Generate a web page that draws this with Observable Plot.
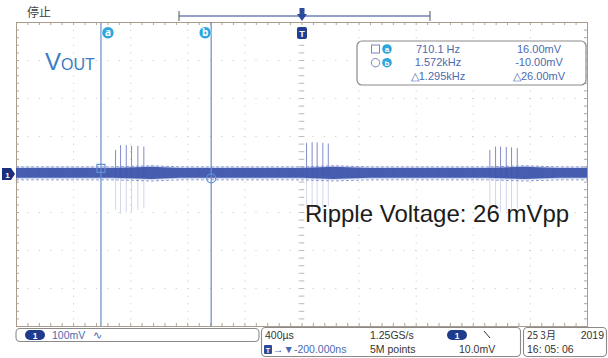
<!DOCTYPE html>
<html><head><meta charset="utf-8">
<script src="https://cdn.jsdelivr.net/npm/d3@7"></script>
<script src="https://cdn.jsdelivr.net/npm/@observablehq/plot@0.6"></script>
<style>
html,body{margin:0;padding:0;background:#fff;}
svg{display:block;overflow:visible;}
</style></head><body><div id="chart"></div>
<script>
// ---- data (time in µs, voltage in mV) ----
const envT  = [-2000, -1320, -1050, -850, 0, 220, 480, 1300, 1560, 1800, 2000];
const envHi = [16, 16, 19, 16, 16, 19, 16, 16, 19, 16, 16];
const envLo = [-10, -10, -13, -10, -10, -13, -10, -10, -13, -10, -10];

const spikeT  = [-1306, -1271, -1231, -1194, -1150, -1108, 32, 71, 106, 146, 184, 1316, 1356, 1391, 1431, 1468, 1508];
const spikeHi = [63, 76, 76, 74, 74, 72, 82, 84, 83, 82, 80, 63, 72, 72, 71, 70, 68];
const spikeLo = [-95, -105, -100, -100, -95, -90, -90, -95, -95, -90, -85, -90, -100, -100, -95, -95, -90];

const cursorNames = ["a", "b"];
const cursorT = [-1408.3, -636.1];
const cursorV = [16, -10];

const readFreq = ["710.1 Hz", "1.572kHz", "△1.295kHz"];
const readVolt = ["16.00mV", "-10.00mV", "△26.00mV"];

const chScale = "100mV";
const timeScale = "400µs";
const trigOffset = "→▼-200.000ns";
const sampleRate = "1.25GS/s";
const recordLen = "5M points";
const trigLevel = "10.0mV";
const dateText = "25 3月";
const yearText = "2019";
const clockText = "16: 05: 06";

// ---- derived ----
const env = envT.map((t, i) => ({t, hi: envHi[i], lo: envLo[i]}));
const spikes = spikeT.map((t, i) => ({t, hi: spikeHi[i], lo: spikeLo[i]}));
const cursors = cursorNames.map((n, i) => ({n, t: cursorT[i], v: cursorV[i]}));

const divT = d3.range(-1600, 1601, 400).filter(d => d !== 0);
const divV = d3.range(-300, 301, 100).filter(d => d !== 0);
const subT = d3.range(-2000, 2001, 80);
const subV = d3.range(-400, 401, 20);

const gridC = "#cfcfcf", tickC = "#b3a796", frameC = "#a99c8a";
const traceC = "#3a52aa", cursorC = "#6390d2";

const plot = Plot.plot({
  width: 608, height: 358,
  marginLeft: 16, marginRight: 21, marginTop: 22, marginBottom: 32,
  x: {domain: [-2000, 2000], axis: null},
  y: {domain: [-400, 400], axis: null},
  style: {background: "#fff", overflow: "visible"},
  marks: [
    Plot.ruleX(divT, {x: d => d, stroke: gridC, strokeDasharray: "1.2,6.4"}),
    Plot.ruleY(divV, {y: d => d, stroke: gridC, strokeDasharray: "1.2,10.2"}),
    Plot.ruleX([0], {x: d => d, stroke: gridC, strokeDasharray: "1.2,6.4"}),
    Plot.ruleY([0], {y: d => d, stroke: gridC, strokeDasharray: "1.2,10.2"}),
    Plot.ruleX(subT, {x: d => d, y1: () => 400, y2: () => 392, stroke: tickC}),
    Plot.ruleX(subT, {x: d => d, y1: () => -400, y2: () => -392, stroke: tickC}),
    Plot.ruleY(subV, {y: d => d, x1: () => -2000, x2: () => -1979, stroke: tickC}),
    Plot.ruleY(subV, {y: d => d, x1: () => 2000, x2: () => 1979, stroke: tickC}),
    Plot.ruleX(subT, {x: d => d, y1: () => -7, y2: () => 7, stroke: "#c4c4c4"}),
    Plot.ruleY(subV, {y: d => d, x1: () => -20, x2: () => 20, stroke: "#bdbdbd"}),
    Plot.frame({stroke: frameC}),
    Plot.ruleX(spikes, {x: "t", y1: () => 0, y2: "lo", stroke: "#8c98cf", strokeOpacity: 0.4}),
    Plot.ruleX(spikes, {x: "t", y1: () => 0, y2: "hi", stroke: "#5565b4", strokeOpacity: 0.75}),
    Plot.areaY(env, {x: "t", y1: d => d.lo - 3, y2: d => d.hi + 3, fill: "#7d8fd0", fillOpacity: 0.35}),
    Plot.areaY(env, {x: "t", y1: "lo", y2: "hi", fill: traceC, fillOpacity: 0.92}),
    Plot.lineY(env, {x: "t", y: d => d.hi + 4, stroke: "#8797d4", strokeDasharray: "2,3", strokeWidth: 1}),
    Plot.lineY(env, {x: "t", y: d => d.lo - 4, stroke: "#8797d4", strokeDasharray: "2,3", strokeWidth: 1}),
    Plot.ruleX(cursors, {x: "t", stroke: cursorC, strokeWidth: 1.2}),
    Plot.dot(cursors.slice(0, 1), {x: "t", y: "v", symbol: "square", r: 4.5, stroke: cursorC, fill: "none", strokeWidth: 1.2}),
    Plot.dot(cursors.slice(1), {x: "t", y: "v", symbol: "circle", r: 4.5, stroke: cursorC, fill: "none", strokeWidth: 1.2}),
    Plot.dot(cursors, {x: "t", y: () => 373, r: 6, fill: "#2ba7de", stroke: "#fff", strokeWidth: 0.5}),
    Plot.text(cursors, {x: "t", y: () => 373, text: "n", fill: "#fff", fontSize: 10, fontWeight: "bold"})
  ]
});

document.getElementById("chart").appendChild(plot);

const svg = d3.select(plot);
const gDots = svg.selectAll("g[aria-label='dot']").filter((d, i) => i === 2);
gDots.selectAll("circle, path").each(function(d, i) {
  const t = d3.select(this).attr("transform") || "";
  d3.select(this).attr("transform", t + (i === 0 ? " translate(7,0)" : " translate(-6,0)"));
});
svg.selectAll("g[aria-label='text'] text").each(function(d, i) {
  const t = d3.select(this).attr("transform") || "";
  d3.select(this).attr("transform", t + (i === 0 ? " translate(7,0)" : " translate(-6,0)"));
});

// ---- scope chrome ----
const g = svg.append("g").attr("font-family", "'Liberation Sans', Arial, sans-serif").attr("text-anchor", "start");
const txt = (x, y, s, o = {}) => g.append("text").attr("x", x).attr("y", y).text(s)
  .attr("font-size", o.size || 10.5).attr("fill", o.fill || "#333")
  .attr("text-anchor", o.anchor || "start").attr("font-family", o.family || null)
  .attr("font-weight", o.weight || null);

g.append("line").attr("x1", 179).attr("x2", 430).attr("y1", 16).attr("y2", 16).attr("stroke", "#6f80b6").attr("stroke-width", 1.4);
[179, 430].forEach(x => g.append("line").attr("x1", x).attr("x2", x).attr("y1", 11).attr("y2", 21).attr("stroke", "#555"));
g.append("rect").attr("x", 299.5).attr("y", 8).attr("width", 5).attr("height", 7).attr("fill", "#2c4b9a");
g.append("path").attr("d", "M297,14 L307,14 L302,21 Z").attr("fill", "#2c4b9a");
g.append("rect").attr("x", 297).attr("y", 27).attr("width", 10).attr("height", 12).attr("rx", 2).attr("fill", "#1e3f92");
txt(302, 37, "T", {size: 9, fill: "#fff", anchor: "middle", weight: "bold"});
txt(27, 17, "停止", {size: 12, fill: "#444", family: "'Noto Sans CJK SC', sans-serif"});
g.append("path").attr("d", "M2,168 H11 L15,174 L11,180 H2 Z").attr("fill", "#1c2f7c");
txt(7.5, 177.5, "1", {size: 8, fill: "#fff", anchor: "middle", weight: "bold"});

const vout = g.append("text").attr("x", 45).attr("y", 70).attr("fill", "#3c7bc6").attr("text-anchor", "start");
vout.append("tspan").attr("font-size", 24).text("V");
vout.append("tspan").attr("font-size", 16).text("OUT");

txt(305, 222, "Ripple Voltage: 26 mVpp", {size: 24, fill: "#1c1c1c"});

g.append("rect").attr("x", 357).attr("y", 41).attr("width", 229).attr("height", 44).attr("rx", 5)
  .attr("fill", "#fff").attr("stroke", "#8a8a8a").attr("stroke-width", 1.2);
g.append("rect").attr("x", 371.5).attr("y", 45).attr("width", 8).attr("height", 8).attr("fill", "none").attr("stroke", "#7a86b8");
g.append("circle").attr("cx", 375.5).attr("cy", 62.7).attr("r", 4.2).attr("fill", "none").attr("stroke", "#7a86b8");
[49, 62.7].forEach((y, i) => {
  g.append("circle").attr("cx", 387).attr("cy", y).attr("r", 4.8).attr("fill", "#2ba7de");
  txt(387, y + 3, cursorNames[i], {size: 8, fill: "#fff", anchor: "middle", weight: "bold"});
});
[52.5, 66, 79.5].forEach((y, i) => {
  txt(438, y, readFreq[i], {size: 11, fill: "#4c6ab0", anchor: "middle"});
  txt(539, y, readVolt[i], {size: 11, fill: "#4c6ab0", anchor: "middle"});
});

const box = (x, y, w, h) => g.append("rect").attr("x", x).attr("y", y).attr("width", w).attr("height", h).attr("rx", 4)
  .attr("fill", "#fff").attr("stroke", "#8a8a8a").attr("stroke-width", 1.1);
box(16, 328.5, 243, 13);
box(261.5, 327.5, 259, 29);
box(523.5, 327.5, 83, 29);
const pill = (x, y) => {
  g.append("rect").attr("x", x).attr("y", y).attr("width", 20).attr("height", 10).attr("rx", 5).attr("fill", "#1f3b8c");
  txt(x + 10, y + 8.5, "1", {size: 8.5, fill: "#fff", anchor: "middle", weight: "bold"});
};
pill(25, 330);
txt(52, 339, chScale, {fill: "#4c6ab0"});
txt(93, 339, "∿", {size: 11, fill: "#4c6ab0"});
txt(265, 339, timeScale);
txt(370, 339, sampleRate);
pill(447, 330);
g.append("line").attr("x1", 484).attr("y1", 331).attr("x2", 490).attr("y2", 338).attr("stroke", "#333");
g.append("rect").attr("x", 264).attr("y", 345).attr("width", 8).attr("height", 9).attr("rx", 1).attr("fill", "#2c4b9a");
txt(268, 352.5, "T", {size: 7, fill: "#fff", anchor: "middle", weight: "bold"});
txt(273, 353, trigOffset, {fill: "#4c6ab0"});
txt(370, 353, recordLen);
txt(459, 353, trigLevel);
txt(527, 339, dateText, {family: "'Noto Sans CJK SC', sans-serif", size: 10});
txt(604, 339, yearText, {anchor: "end"});
txt(527, 353, clockText);
</script>
</body></html>
